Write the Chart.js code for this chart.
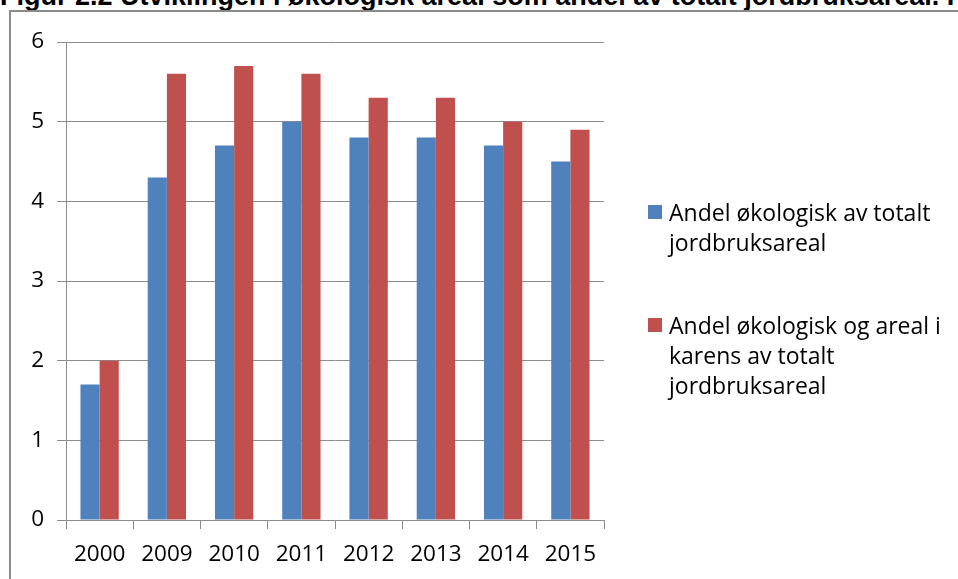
<!DOCTYPE html>
<html>
<head>
<meta charset="utf-8">
<script src="https://cdn.jsdelivr.net/npm/chart.js@4.4.1/dist/chart.umd.min.js"></script>
<style>
  html, body { margin: 0; padding: 0; background: #fff; overflow: hidden; }
  #wrap { position: relative; width: 958px; height: 579px; }
  #title { position: absolute; left: 0; top: -17px; white-space: nowrap;
    font: bold 27px "Liberation Sans", Arial, sans-serif; color: #000; line-height: 27px; }
  #frame { position: absolute; left: 9px; top: 10px; width: 1000px; height: 1000px;
    border: 2px solid #8a8a8a; box-sizing: border-box; }
  #chart { position: absolute; left: 0; top: 0; }
  #legend { position: absolute; left: 648px; top: 0; font: 23px "Open Sans", sans-serif; color: #000; }
  .item { position: absolute; left: 0; white-space: nowrap; line-height: 30px; }
  .box { position: absolute; left: 0; width: 14px; height: 14px; }
  .txt { position: absolute; left: 21px; top: 0; }
</style>
</head>
<body>
<div id="wrap">
  <div id="title">Figur 2.2 Utviklingen i økologisk areal som andel av totalt jordbruksareal. I</div>
  <div id="frame"></div>
  <canvas id="chart" width="958" height="579"></canvas>
  <div id="legend"></div>
</div>
<script>
// data
var years = ['2000', '2009', '2010', '2011', '2012', '2013', '2014', '2015'];
var andelOkologisk = [1.7, 4.3, 4.7, 5.0, 4.8, 4.8, 4.7, 4.5];
var andelMedKarens = [2.0, 5.6, 5.7, 5.6, 5.3, 5.3, 5.0, 4.9];
var seriesNames = [
    ['Andel økologisk av totalt', 'jordbruksareal'],
    ['Andel økologisk og areal i', 'karens av totalt', 'jordbruksareal']
];
var yTicks = [0, 1, 2, 3, 4, 5, 6];

var blue = '#4F81BD';
var red = '#C0504D';
var gridCol = '#8c8c8c';
var tickFont = { family: 'Open Sans', size: 22.5 };

var ctx = document.getElementById('chart').getContext('2d');
var myChart = new Chart(ctx, {
    type: 'bar',
    data: {
        labels: years,
        datasets: [{
            label: seriesNames[0].join(' '),
            data: andelOkologisk,
            backgroundColor: blue,
            borderWidth: 0
        }, {
            label: seriesNames[1].join(' '),
            data: andelMedKarens,
            backgroundColor: red,
            borderWidth: 0
        }]
    },
    options: {
        responsive: false,
        animation: false,
        layout: { padding: { top: 42, right: 354, bottom: 0, left: 0 } },
        datasets: { bar: { categoryPercentage: 0.57, barPercentage: 1.0 } },
        plugins: { legend: { display: false }, tooltip: { enabled: false } },
        scales: {
            x: {
                grid: { offset: true, drawOnChartArea: false, drawTicks: true, tickLength: 9, color: gridCol },
                border: { color: gridCol },
                ticks: { color: '#000', font: tickFont, padding: 12, maxRotation: 0 },
                afterFit: function(scale){ scale.height = 59; }
            },
            y: {
                min: 0, max: 6,
                afterBuildTicks: function(scale){ scale.ticks = yTicks.map(function(v){ return { value: v }; }); },
                grid: { color: gridCol, tickLength: 9 },
                border: { color: gridCol },
                ticks: { color: '#000', font: tickFont, padding: 13 },
                afterFit: function(scale){ scale.width = 66; }
            }
        }
    }
});

// legend (multi-line labels)
var legend = document.getElementById('legend');
var colors = [blue, red];
var tops = [197, 310];
seriesNames.forEach(function(lines, i){
    var item = document.createElement('div');
    item.className = 'item';
    item.style.top = tops[i] + 'px';
    item.innerHTML = '<div class="box" style="top:8px;background:' + colors[i] + '"></div>' +
        '<div class="txt">' + lines.join('<br>') + '</div>';
    legend.appendChild(item);
});
</script>
</body>
</html>
